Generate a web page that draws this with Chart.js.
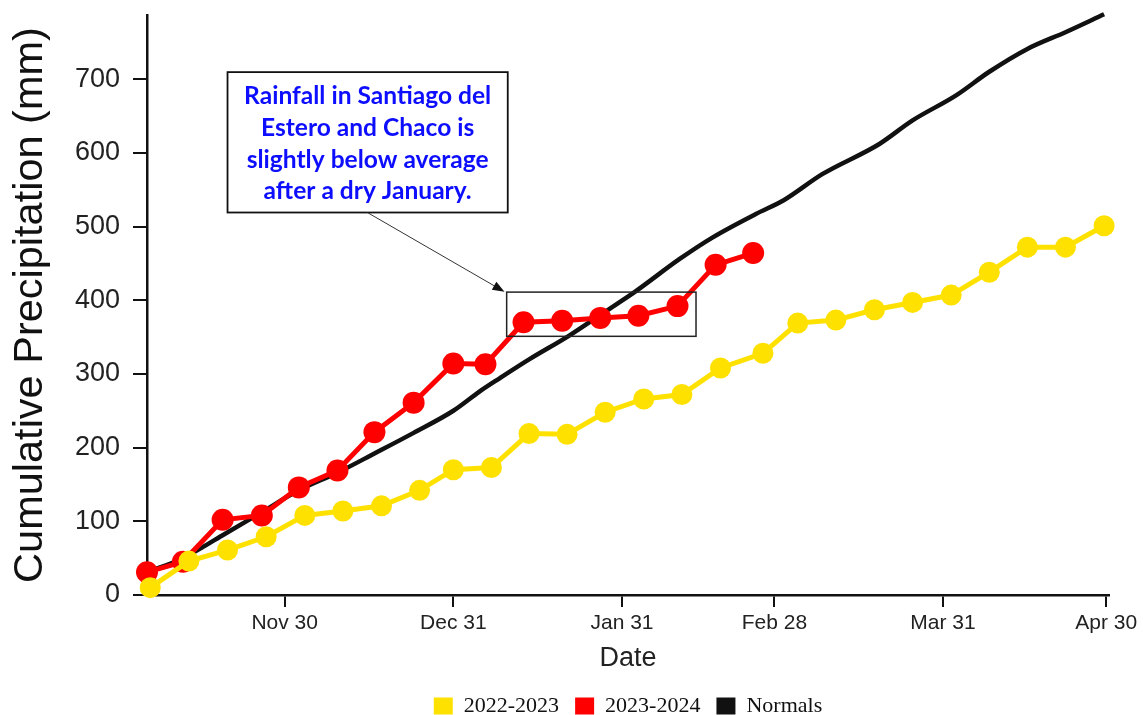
<!DOCTYPE html>
<html><head><meta charset="utf-8">
<script src="https://cdn.jsdelivr.net/npm/chart.js@4"></script>
<style>html,body{margin:0;padding:0;background:#fff}#wrap{width:1143px;height:715px;position:relative}</style>
</head><body><div id="wrap"><canvas id="c"></canvas></div>
<script>
// ---- data (x = days after Nov 30) ----
const xTickDays = [0, 31, 62, 90, 121, 151];
const xTickLabels = ['Nov 30', 'Dec 31', 'Jan 31', 'Feb 28', 'Mar 31', 'Apr 30'];
const yTickValues = [0, 100, 200, 300, 400, 500, 600, 700];
const seriesNames = ['2022-2023', '2023-2024', 'Normals'];
const days2223 = [-24.7, -17.6, -10.5, -3.4, 3.7, 10.7, 17.8, 24.8, 31, 38, 44.9, 51.9, 58.9, 66, 73, 80.1, 87.9, 94.3, 101.3, 108.4, 115.4, 122.5, 129.5, 136.5, 143.5, 150.6];
const values2223 = [10, 46, 61, 79, 108, 114, 121, 142, 170, 173, 219, 218, 248, 266, 272, 308, 328, 369, 373, 387, 397, 407, 438, 472, 472, 501];
const days2324 = [-25.3, -18.7, -11.4, -4.2, 2.6, 9.7, 16.5, 23.7, 31, 36.9, 43.9, 51, 58, 65, 72.2, 79.2, 86.1];
const values2324 = [31, 45, 102, 108, 146, 169, 221, 261, 314, 313, 370, 372, 376, 379, 392, 448, 464];
const daysNormals = [-25.2, -18.7, -11.4, -4.3, 2.6, 9.7, 16.5, 23.7, 31, 35.8, 39.5, 45, 52.3, 58.8, 64.3, 72.6, 78.6, 86.6, 91.8, 98.8, 109.3, 115.4, 123.4, 129.5, 136.5, 143.6, 150.6];
const valuesNormals = [31, 50, 81, 112, 142, 166, 192, 220, 250, 276, 294, 320, 352, 384, 411, 456, 485, 517, 536, 571, 612, 644, 678, 710, 741, 764, 788];
const calloutLines = ['Rainfall in Santiago del', 'Estero and Chaco is', 'slightly below average', 'after a dry January.'];

const toPts = (xs, ys) => xs.map((x, i) => ({x: x, y: ys[i]}));
const SANS = '"Liberation Sans", Arial, sans-serif';
const SERIF = '"Liberation Serif", "Times New Roman", serif';

const annotationPlugin = {
  id: 'callout',
  afterDatasetsDraw(chart) {
    const {ctx, scales: {x, y}} = chart;
    const px = v => x.getPixelForValue(v), py = v => y.getPixelForValue(v);
    ctx.save();
    // highlight rectangle
    const r = {l: px(40.8), r: px(75.6), t: py(411), b: py(351)};
    ctx.strokeStyle = '#222'; ctx.lineWidth = 1.5;
    ctx.strokeRect(r.l, r.t, r.r - r.l, r.b - r.t);
    // callout box
    const b = {l: px(-10.5), r: px(41), t: py(709.5), b: py(519)};
    ctx.fillStyle = '#fff';
    ctx.fillRect(b.l, b.t, b.r - b.l, b.b - b.t);
    ctx.strokeStyle = '#111'; ctx.lineWidth = 1.8;
    ctx.strokeRect(b.l, b.t, b.r - b.l, b.b - b.t);
    // text
    let fs = 22;
    ctx.font = 'bold ' + fs + 'px Lato, "Open Sans", sans-serif';
    const w = ctx.measureText(calloutLines[0]).width;
    fs = fs * (0.882 * (b.r - b.l)) / w;
    ctx.font = 'bold ' + fs.toFixed(2) + 'px Lato, "Open Sans", sans-serif';
    ctx.fillStyle = '#0d0dff'; ctx.textAlign = 'center'; ctx.textBaseline = 'middle';
    const cx = (b.l + b.r) / 2, h = b.b - b.t;
    const offs = [0.171, 0.4, 0.629, 0.85];
    calloutLines.forEach((t, i) => ctx.fillText(t, cx, b.t + offs[i] * h));
    // arrow
    const a0 = {x: px(15.2), y: b.b}, a1 = {x: px(40.4), y: py(411.5)};
    ctx.strokeStyle = '#333'; ctx.lineWidth = 1;
    const ang = Math.atan2(a1.y - a0.y, a1.x - a0.x);
    const hl = 12;
    ctx.beginPath(); ctx.moveTo(a0.x, a0.y);
    ctx.lineTo(a1.x - hl * 0.8 * Math.cos(ang), a1.y - hl * 0.8 * Math.sin(ang)); ctx.stroke();
    ctx.fillStyle = '#111';
    ctx.beginPath();
    ctx.moveTo(a1.x, a1.y);
    ctx.lineTo(a1.x - hl * Math.cos(ang) + 4.5 * Math.sin(ang), a1.y - hl * Math.sin(ang) - 4.5 * Math.cos(ang));
    ctx.lineTo(a1.x - hl * Math.cos(ang) - 4.5 * Math.sin(ang), a1.y - hl * Math.sin(ang) + 4.5 * Math.cos(ang));
    ctx.closePath(); ctx.fill();
    ctx.restore();
  }
};

new Chart(document.getElementById('c'), {
  type: 'line',
  data: {
    datasets: [
      {label: seriesNames[0], data: toPts(days2223, values2223), borderColor: '#FFE100', backgroundColor: '#FFE100',
       borderWidth: 5, pointRadius: 10.5, pointBorderWidth: 0, pointBackgroundColor: '#FFE100', clip: false, tension: 0},
      {label: seriesNames[1], data: toPts(days2324, values2324), borderColor: '#FF0000', backgroundColor: '#FF0000',
       borderWidth: 5, pointRadius: 11, pointBorderWidth: 0, pointBackgroundColor: '#FF0000', clip: false, tension: 0},
      {label: seriesNames[2], data: toPts(daysNormals, valuesNormals), borderColor: '#111111', backgroundColor: '#111111',
       borderWidth: 4.5, pointRadius: 0, cubicInterpolationMode: 'monotone', clip: false}
    ]
  },
  options: {
    responsive: true, maintainAspectRatio: false, animation: false, devicePixelRatio: 1,
    layout: {padding: {top: 15, right: 34, left: 0, bottom: -12}},
    plugins: {
      tooltip: {enabled: false},
      legend: {
        position: 'bottom', fullSize: false,
        labels: {
          boxWidth: 19, boxHeight: 17, padding: 16, color: '#111',
          font: {family: SERIF, size: 22},
          generateLabels: chart => chart.data.datasets.map((d, i) => ({
            text: d.label, fillStyle: d.borderColor, strokeStyle: d.borderColor, lineWidth: 0, hidden: false, datasetIndex: i, fontColor: '#111'
          }))
        }
      }
    },
    scales: {
      x: {
        type: 'linear', min: -25.3, max: 151.5,
        afterBuildTicks: s => { s.ticks = xTickDays.map(v => ({value: v})); },
        afterFit: s => { s.height = 84; },
        ticks: {autoSkip: false, maxRotation: 0, padding: 4, color: '#222', font: {family: SANS, size: 21},
                callback: v => { const i = xTickDays.indexOf(v); return i >= 0 ? xTickLabels[i] : ''; }},
        grid: {display: true, drawOnChartArea: false, drawTicks: true, tickLength: 12, color: '#111', lineWidth: 2},
        border: {display: true, color: '#111', width: 2.5},
        title: {display: true, text: 'Date', color: '#222', font: {family: SANS, size: 27}, padding: {top: 0, bottom: 4}}
      },
      y: {
        type: 'linear', min: 0, max: 787,
        afterBuildTicks: s => { s.ticks = yTickValues.map(v => ({value: v})); },
        afterFit: s => { s.width = 147; s.paddingTop = 0; s.paddingBottom = 0; },
        ticks: {padding: 13, color: '#222', font: {family: SANS, size: 27}},
        grid: {display: true, drawOnChartArea: false, drawTicks: true, tickLength: 14, color: '#111', lineWidth: 2},
        border: {display: true, color: '#111', width: 2.5},
        title: {display: true, text: 'Cumulative Precipitation (mm)', color: '#111', font: {family: SANS, size: 41.5, lineHeight: 1.1}, padding: {top: 8, bottom: 0}}
      }
    }
  },
  plugins: [annotationPlugin]
});
</script>
</body></html>
